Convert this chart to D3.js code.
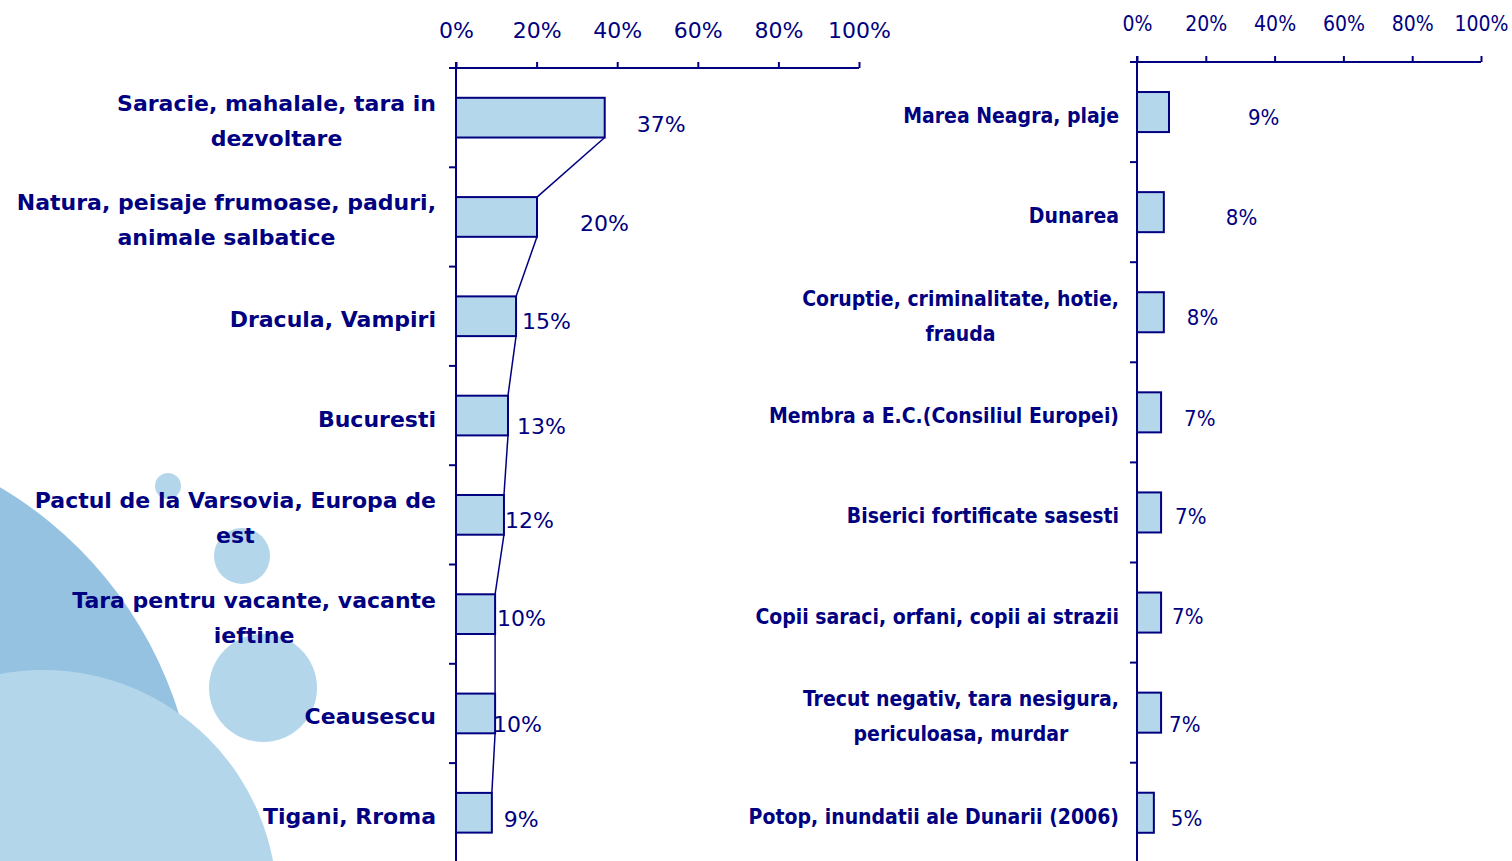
<!DOCTYPE html>
<html>
<head>
<meta charset="utf-8">
<script src="https://cdn.jsdelivr.net/npm/d3@7"></script>
<style>
  body { margin: 0; background: #fff; }
  svg { display: block; }
</style>
</head>
<body>
<div id="chart-area"></div>
<script>
// left chart
const leftCats = [
    "Saracie, mahalale, tara in|dezvoltare",
    "Natura, peisaje frumoase, paduri,|animale salbatice",
    "Dracula, Vampiri",
    "Bucuresti",
    "Pactul de la Varsovia, Europa de|est",
    "Tara pentru vacante, vacante|ieftine",
    "Ceausescu",
    "Tigani, Rroma"
]
const leftVals = [0.369, 0.201, 0.149, 0.129, 0.119, 0.097, 0.097, 0.089]

// right chart
const rightCats = [
    "Marea Neagra, plaje",
    "Dunarea",
    "Coruptie, criminalitate, hotie,|frauda",
    "Membra a E.C.(Consiliul Europei)",
    "Biserici fortificate sasesti",
    "Copii saraci, orfani, copii ai strazii",
    "Trecut negativ, tara nesigura,|periculoasa, murdar",
    "Potop, inundatii ale Dunarii (2006)"
]
const rightVals = [0.093, 0.078, 0.078, 0.070, 0.070, 0.070, 0.070, 0.049]

const axisTicks = [0, 0.2, 0.4, 0.6, 0.8, 1]

const navy = "#000080"
const barFill = "#b4d7eb"
const pct = d3.format(".0%")

const W = 1512, H = 861
const svg = d3.select("#chart-area").append("svg")
    .attr("width", W)
    .attr("height", H)

// background bubbles
const bg = svg.append("g")
bg.append("circle").attr("cx", -205).attr("cy", 833).attr("r", 402).attr("fill", "#95c2e1")
bg.append("circle").attr("cx", 43).attr("cy", 904).attr("r", 234).attr("fill", "#b4d6eb")
bg.append("circle").attr("cx", 168).attr("cy", 486).attr("r", 13).attr("fill", "#b4d6eb")
bg.append("circle").attr("cx", 242).attr("cy", 556).attr("r", 28).attr("fill", "#b4d6eb")
bg.append("circle").attr("cx", 263).attr("cy", 688).attr("r", 54).attr("fill", "#b4d6eb")

function drawPanel(p) {
    const g = svg.append("g")

    const x = d3.scaleLinear().domain([0, 1]).range([p.x0, p.x1])
    const y = d3.scaleBand()
        .domain(p.cats)
        .range([p.axisY, p.axisY + p.step * p.cats.length])
        .paddingInner(0.6)
        .paddingOuter(0.3)
    const step = y.step()

    // x axis on top
    const xAxisCall = d3.axisTop(x)
        .tickValues(axisTicks)
        .tickSize(6)
        .tickSizeOuter(0)
        .tickFormat(pct)
    const ax = g.append("g")
        .attr("transform", `translate(0, ${p.axisY})`)
        .call(xAxisCall)
    ax.select(".domain").remove()
    ax.selectAll(".tick line").attr("stroke", navy).attr("stroke-width", 2)
    ax.selectAll(".tick text")
        .attr("y", p.tickTextY - p.axisY)
        .attr("fill", navy)
        .style("font-family", p.tickFont)
        .style("font-stretch", p.stretch)
        .style("font-size", p.tickSize + "px")

    g.append("line")
        .attr("x1", x(0) - 7).attr("x2", x(1))
        .attr("y1", p.axisY).attr("y2", p.axisY)
        .attr("stroke", navy).attr("stroke-width", 2)

    // y axis line + category ticks
    g.append("line")
        .attr("x1", x(0)).attr("x2", x(0))
        .attr("y1", p.axisY - 6).attr("y2", H)
        .attr("stroke", navy).attr("stroke-width", 2)
    g.selectAll(".cat-tick").data(p.cats.slice(1))
        .enter().append("line")
        .attr("class", "cat-tick")
        .attr("x1", x(0) - 7).attr("x2", x(0))
        .attr("y1", d => y(d) - step * 0.3)
        .attr("y2", d => y(d) - step * 0.3)
        .attr("stroke", navy).attr("stroke-width", 2)

    const data = p.cats.map((c, i) => ({cat: c, val: p.vals[i], i: i}))

    // series lines between bars
    if (p.seriesLines) {
        g.selectAll(".series-line").data(data.slice(1))
            .enter().append("line")
            .attr("x1", d => x(data[d.i - 1].val))
            .attr("y1", d => y(data[d.i - 1].cat) + y.bandwidth())
            .attr("x2", d => x(d.val))
            .attr("y2", d => y(d.cat))
            .attr("stroke", navy).attr("stroke-width", 1.5)
    }

    g.selectAll(".bar").data(data)
        .enter().append("rect")
        .attr("x", x(0))
        .attr("y", d => y(d.cat))
        .attr("width", d => x(d.val) - x(0))
        .attr("height", y.bandwidth())
        .attr("fill", barFill)
        .attr("stroke", navy)
        .attr("stroke-width", 2)

    // value labels
    g.selectAll(".val").data(data)
        .enter().append("text")
        .attr("x", d => x(d.val) + p.dx[d.i])
        .attr("y", d => y(d.cat) + y.bandwidth() / 2 + p.dy[d.i] + 8)
        .attr("fill", navy)
        .style("font-family", p.tickFont)
        .style("font-stretch", p.stretch)
        .style("font-size", p.valSize + "px")
        .text(d => pct(d.val))

    // category labels, wrapped lines centred in a right-aligned block
    data.forEach(d => {
        const lines = d.cat.split("|")
        const lg = g.append("g")
        const cy = y(d.cat) + y.bandwidth() / 2 + 3
        const texts = lines.map((t, k) => lg.append("text")
            .attr("text-anchor", "middle")
            .attr("y", cy + (k - (lines.length - 1) / 2) * 35 + 8)
            .attr("fill", navy)
            .style("font-family", p.catFont)
            .style("font-stretch", p.stretch)
            .style("font-weight", "bold")
            .style("font-size", p.catSize + "px")
            .text(t))
        const maxW = d3.max(texts, t => t.node().getComputedTextLength())
        texts.forEach(t => t.attr("x", p.labelRight - maxW / 2))
    })
}

drawPanel({
    cats: leftCats, vals: leftVals,
    x0: 456, x1: 859, axisY: 68, step: 99.3,
    tickTextY: 38, tickFont: "DejaVu Sans", tickSize: 22, valSize: 22,
    catFont: "DejaVu Sans", catSize: 22, stretch: "normal",
    labelRight: 436, seriesLines: true,
    dx: [32, 43, 6, 9, 1, 2, -2, 12],
    dy: [6, 6, 5, 10, 5, 4, 11, 6]
})

drawPanel({
    cats: rightCats, vals: rightVals,
    x0: 1137, x1: 1481, axisY: 62, step: 100.1,
    tickTextY: 31, tickFont: "DejaVu Sans Condensed, DejaVu Sans", tickSize: 21, valSize: 22,
    catFont: "DejaVu Sans Condensed, DejaVu Sans", catSize: 21, stretch: "condensed",
    labelRight: 1119, seriesLines: false,
    dx: [79, 62, 23, 23, 14, 11, 8, 17],
    dy: [5, 5, 5, 6, 4, 3, 11, 5]
})
</script>
</body>
</html>
